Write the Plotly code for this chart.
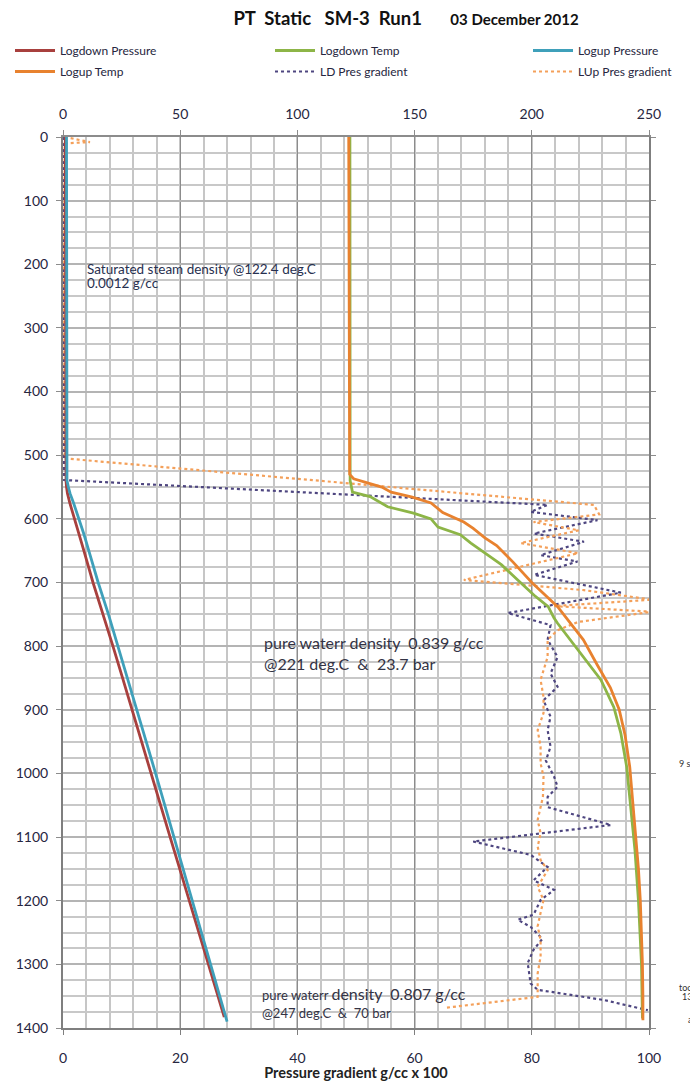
import plotly.graph_objects as go

# ---------------- data ----------------
depth_pd = [0, 50, 100, 150, 200, 250, 300, 350, 400, 450, 500, 525, 540, 550, 560, 575, 600, 625, 650,
            700, 750, 800, 850, 900, 950, 1000, 1050, 1100, 1150, 1200, 1250, 1300, 1350, 1383]
logdown_pressure = [1.0, 1.0, 1.0, 1.0, 1.0, 1.0, 1.1, 1.1, 1.1, 1.1, 1.2, 1.2, 1.3, 1.5, 1.9, 2.9, 4.8, 6.8, 8.9,
                    12.8, 17.2, 21.3, 25.4, 29.4, 33.5, 37.6, 41.6, 45.7, 49.8, 53.9, 57.9, 62.0, 66.1, 68.8]

depth_pu = [0, 50, 100, 150, 200, 250, 300, 350, 400, 450, 500, 525, 540, 550, 560, 575, 600, 625, 650,
            700, 750, 800, 850, 900, 950, 1000, 1050, 1100, 1150, 1200, 1250, 1300, 1350, 1390]
logup_pressure = [1.5, 1.5, 1.5, 1.5, 1.5, 1.5, 1.5, 1.5, 1.5, 1.5, 1.5, 1.5, 1.7, 2.3, 3.0, 4.5, 6.9, 9.0, 11.0,
                  15.0, 19.4, 23.5, 27.6, 31.6, 35.5, 39.5, 43.4, 47.3, 51.3, 55.2, 59.2, 63.1, 67.0, 70.0]

depth_td = [0, 100, 200, 300, 400, 500, 540, 558, 565, 581, 591, 600, 613, 625, 638, 660, 672, 696, 720,
            738, 756, 764, 806, 853, 896, 937, 990, 1042, 1120, 1200, 1300, 1385]
logdown_temp = [122.4, 122.4, 122.4, 122.4, 122.4, 122.4, 122.5, 123.5, 131.0, 138.5, 149.5, 157.0, 160.0,
                169.5, 174.0, 182.5, 187.0, 194.0, 201.0, 207.0, 209.5, 211.0, 219.7, 229.5, 235.0, 238.0,
                240.5, 242.0, 244.0, 245.5, 246.8, 247.2]

depth_tu = [0, 100, 200, 300, 400, 500, 530, 537, 545, 550, 558, 566, 575, 590, 605, 615, 630, 642, 668,
            700, 738, 760, 790, 830, 865, 900, 940, 990, 1040, 1100, 1150, 1200, 1250, 1300, 1350, 1388]
logup_temp = [121.9, 122.0, 122.0, 122.1, 122.1, 122.2, 122.3, 124.0, 132.0, 136.0, 140.0, 149.0, 157.0,
              162.0, 171.0, 175.0, 180.0, 185.0, 192.0, 200.0, 211.0, 215.5, 222.0, 228.0, 233.5, 237.3,
              239.8, 241.8, 243.0, 244.5, 245.5, 246.3, 246.9, 247.2, 247.4, 247.4]

depth_ldg = [0, 100, 200, 300, 400, 500, 539, 578, 589, 602, 623, 636, 657, 667, 688, 716, 748, 767, 790,
             817, 843, 864, 885, 911, 932, 958, 980, 1005, 1021, 1037, 1053, 1081, 1107, 1128, 1147, 1168,
             1183, 1199, 1222, 1230, 1241, 1260, 1277, 1298, 1330, 1340, 1356, 1372]
ld_pres_gradient = [0.2, 0.1, 0.1, 0.1, 0.1, 0.1, 0.2, 82.7, 79.8, 91.2, 80.4, 88.9, 81.5, 87.8, 80.4, 95.2,
                    75.9, 83.2, 82.7, 84.4, 83.2, 84.4, 82.0, 83.2, 82.7, 83.2, 82.4, 83.8, 84.4, 82.7, 82.7,
                    93.5, 70.0, 79.8, 82.7, 80.3, 83.8, 81.5, 80.3, 77.6, 79.8, 81.8, 80.3, 79.3, 79.8, 81.0,
                    92.3, 99.8]

depth_lug = [0, 8, 10, 100, 200, 300, 400, 500, 505, 578, 593, 605, 618, 638, 654, 696, 712, 727, 737, 746,
             762, 775, 790, 817, 853, 880, 905, 932, 958, 984, 1005, 1037, 1073, 1094, 1115, 1136, 1152,
             1178, 1199, 1219, 1240, 1262, 1288, 1314, 1351, 1368]
lup_pres_gradient = [0.3, 4.6, 0.3, 0.2, 0.2, 0.2, 0.2, 0.2, 0.3, 90.6, 91.5, 80.3, 88.0, 78.1, 87.9, 68.4,
                     88.9, 100.5, 83.8, 100.5, 87.9, 84.4, 82.7, 82.7, 81.5, 82.0, 82.0, 81.0, 81.5, 81.5,
                     82.0, 81.9, 81.0, 81.5, 81.0, 81.5, 82.7, 81.0, 82.0, 81.5, 81.0, 81.5, 81.5, 81.0,
                     81.0, 65.5]

depth_ticks = list(range(0, 1401, 100))
top_ticks = [0, 50, 100, 150, 200, 250]
bottom_ticks = [0, 20, 40, 60, 80, 100]

FONT = "Lato"
TXT = "#262640"
W, H = 690, 1073  # page body margin (8px) is added around the figure

fig = go.Figure()

# gradients (bottom axis)
fig.add_trace(go.Scatter(x=ld_pres_gradient, y=depth_ldg, mode="lines", name="LD Pres gradient",
                         line=dict(color="#4E4680", width=2.2, dash="dot"), xaxis="x", yaxis="y",
                         legend="legend2", legendrank=2, legendgroup="g5"))
fig.add_trace(go.Scatter(x=lup_pres_gradient, y=depth_lug, mode="lines", name="LUp Pres gradient",
                         line=dict(color="#F4A05A", width=2.2, dash="dot"), xaxis="x", yaxis="y",
                         legend="legend3", legendrank=2, legendgroup="g6"))
# pressure & temperature (top axis)
fig.add_trace(go.Scatter(x=logdown_pressure, y=depth_pd, mode="lines", name="Logdown Pressure",
                         line=dict(color="#A8403E", width=2.8), xaxis="x2", yaxis="y",
                         legend="legend", legendrank=1, legendgroup="g1"))
fig.add_trace(go.Scatter(x=logup_pressure, y=depth_pu, mode="lines", name="Logup Pressure",
                         line=dict(color="#3FA0BA", width=2.8), xaxis="x2", yaxis="y",
                         legend="legend3", legendrank=1, legendgroup="g3"))
fig.add_trace(go.Scatter(x=logdown_temp, y=depth_td, mode="lines", name="Logdown Temp",
                         line=dict(color="#8DB547", width=2.8), xaxis="x2", yaxis="y",
                         legend="legend2", legendrank=1, legendgroup="g2"))
fig.add_trace(go.Scatter(x=logup_temp, y=depth_tu, mode="lines", name="Logup Temp",
                         line=dict(color="#E8822F", width=2.8), xaxis="x2", yaxis="y",
                         legend="legend", legendrank=2, legendgroup="g4"))

legend_common = dict(orientation="v", xref="container", yref="container", yanchor="top", xanchor="left",
                     font=dict(family=FONT, size=12, color=TXT), bgcolor="rgba(0,0,0,0)",
                     tracegroupgap=2, itemwidth=40)

LEG_Y = 1 - 28 / H
fig.update_layout(
    width=W, height=H,
    margin=dict(l=55, r=49, t=129, b=53, autoexpand=False),
    paper_bgcolor="white", plot_bgcolor="white",
    font=dict(family=FONT, color=TXT),
    title=dict(text="<b>PT  Static   SM-3  Run1</b>      <b><span style='font-size:15px'>03 December 2012</span></b>",
               x=398 / W, xanchor="center", xref="container", y=1 - 11 / H, yanchor="middle",
               font=dict(family=FONT, size=18.5, color="#111")),
    legend=dict(x=2 / W, y=LEG_Y, **legend_common),
    legend2=dict(x=262 / W, y=LEG_Y, **legend_common),
    legend3=dict(x=520 / W, y=LEG_Y, **legend_common),
    xaxis=dict(range=[0, 100], tickvals=bottom_ticks, side="bottom", anchor="y",
               showline=True, linecolor="#7f7f7f", linewidth=2, ticks="outside", ticklen=5,
               tickcolor="#7f7f7f", showgrid=True, gridcolor="#8c8c8c", gridwidth=1,
               minor=dict(dtick=4, showgrid=True, gridcolor="#c6c6c6", gridwidth=1.5),
               zeroline=False, tickfont=dict(family=FONT, size=14, color=TXT), ticklabelstandoff=11,
               title=dict(text="<b>Pressure gradient g/cc x 100</b>", standoff=0,
                          font=dict(family=FONT, size=14.5, color="#222"))),
    xaxis2=dict(range=[0, 250], tickvals=top_ticks, side="top", overlaying="x", anchor="y",
                showline=True, linecolor="#8c8c8c", linewidth=2, ticks="outside", ticklen=5,
                tickcolor="#8c8c8c", showgrid=False, zeroline=False, ticklabelstandoff=5,
                tickfont=dict(family=FONT, size=14, color=TXT)),
    yaxis=dict(range=[1400, 0], tickvals=depth_ticks, showline=True, linecolor="#7f7f7f", linewidth=2,
               mirror="ticks", ticks="outside", ticklen=5, tickcolor="#8c8c8c", ticklabelstandoff=5,
               showgrid=True, gridcolor="#b4b4b4", gridwidth=1.5,
               minor=dict(dtick=25, showgrid=True, gridcolor="#c8c8c8", gridwidth=1.5),
               zeroline=False, tickfont=dict(family=FONT, size=14, color=TXT)),
    showlegend=True,
)

ann_sat = dict(family=FONT, size=13.5, color="#27304f")
ann_small = dict(family=FONT, size=13, color="#333344")
ann_big = dict(family=FONT, size=16, color="#333344")
annotations = []
for txt, gx, dep, fnt in [
    ("Saturated steam density @122.4 deg.C", 3.76, 207.4, ann_sat),
    ("0.0012 g/cc", 3.76, 229.4, ann_sat),
    ("pure waterr density  0.839 g/cc", 34.0, 795, ann_big),
    ("@221 deg.C  &  23.7 bar", 34.0, 826.5, ann_big),
    ("<span style='font-size:13px'>pure waterr </span>density  0.807 g/cc", 33.7, 1345, ann_big),
    ("@247 deg.C  &  70 bar", 33.7, 1376.5, ann_small),
]:
    annotations.append(dict(text=txt, x=gx, y=dep, xref="x", yref="y", xanchor="left", yanchor="middle",
                            align="left", showarrow=False, font=fnt))
frag_font = dict(family=FONT, size=9, color="#333")
for txt, xpx, dep in [("9 s", 677, 984), ("too", 677, 1336), ("13", 680, 1351), ("a", 686, 1386)]:
    annotations.append(dict(text=txt, x=(xpx - 63) / 586, y=dep, xref="paper", yref="y", xanchor="left",
                            yanchor="middle", showarrow=False, font=frag_font))
fig.update_layout(annotations=annotations)

fig.write_html("out.html")
